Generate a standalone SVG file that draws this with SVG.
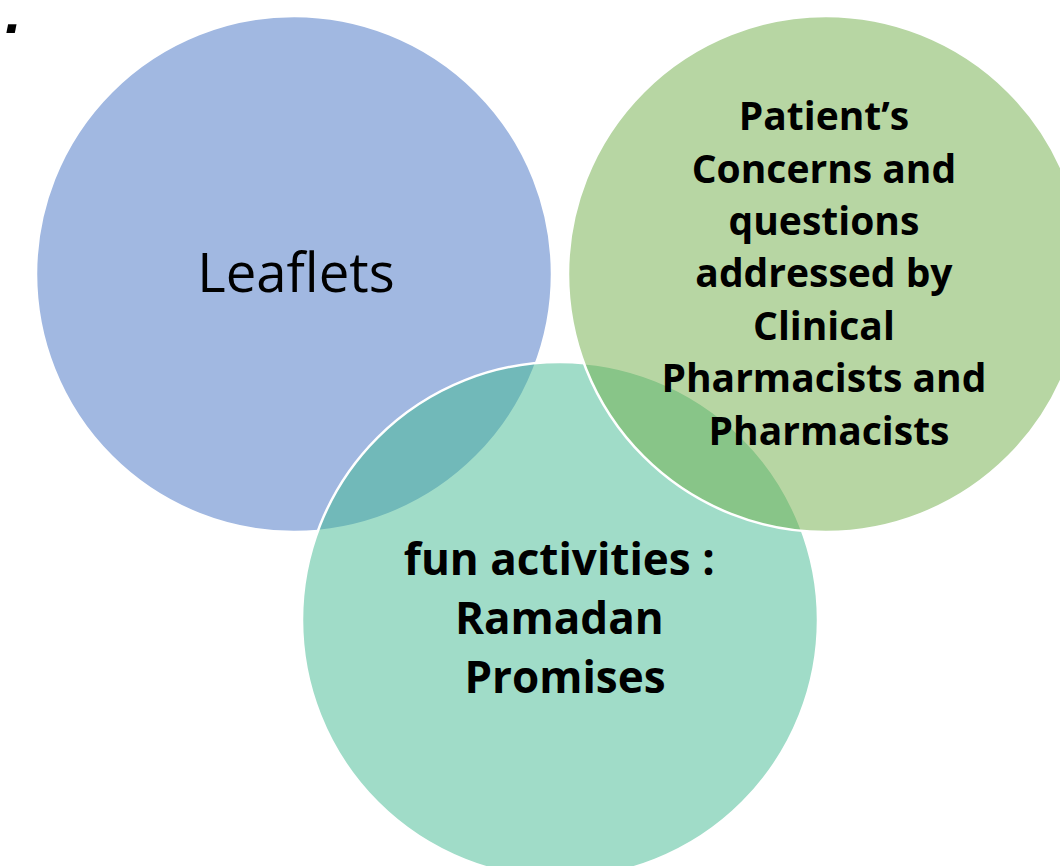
<svg xmlns="http://www.w3.org/2000/svg" width="1060" height="866" viewBox="0 0 1060 866">
  <style>
    .ring { stroke: #ffffff; stroke-width: 2.5; fill-opacity: 0.5; }
    .label { font-family: "Open Sans", "Liberation Sans", sans-serif; fill: #000000; text-anchor: middle; }
    .bold { font-weight: 700; }
  </style>
  <rect width="1060" height="866" fill="#ffffff"/>

  <!-- stray punctuation at the page corner -->
  <text x="5" y="33" font-family="Liberation Sans, sans-serif" font-size="60" font-weight="700" font-style="italic" fill="#000000">.</text>

  <g id="leaflets">
    <circle class="ring" cx="294" cy="274" r="258" fill="#4472C4"/>
    <text class="label" x="296" y="292" font-size="54.5">Leaflets</text>
  </g>

  <g id="fun-activities">
    <circle class="ring" cx="560" cy="620" r="258" fill="#41B991"/>
    <text class="label bold" font-size="44">
      <tspan x="565" y="575">fun activities :</tspan>
      <tspan x="565" y="634">Ramadan</tspan>
      <tspan x="565" y="693">Promises</tspan>
    </text>
  </g>

  <g id="patient-concerns">
    <circle class="ring" cx="826" cy="274" r="258" fill="#70AD47"/>
    <text class="label bold" font-size="39">
      <tspan x="829" y="130">Patient’s</tspan>
      <tspan x="829" y="183">Concerns and</tspan>
      <tspan x="829" y="235">questions</tspan>
      <tspan x="829" y="287">addressed by</tspan>
      <tspan x="829" y="340">Clinical</tspan>
      <tspan x="829" y="392">Pharmacists and</tspan>
      <tspan x="829" y="445">Pharmacists</tspan>
    </text>
  </g>
</svg>
